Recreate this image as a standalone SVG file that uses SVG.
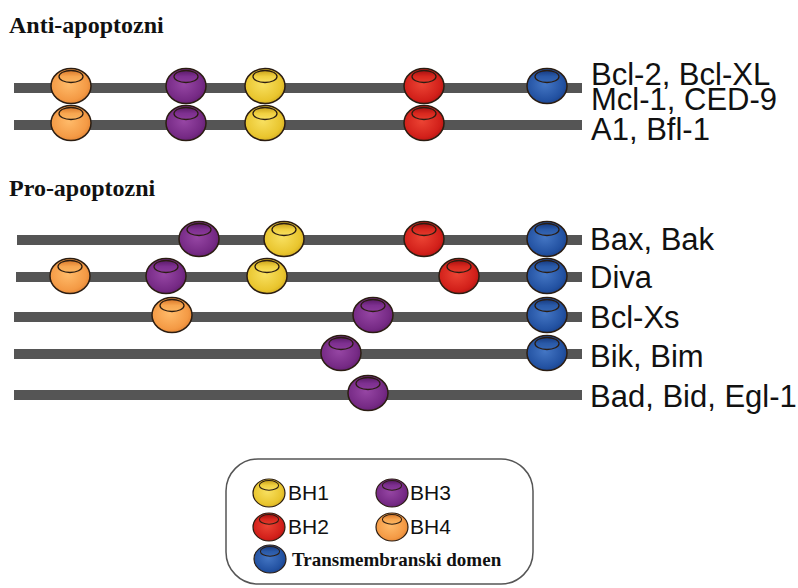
<svg xmlns="http://www.w3.org/2000/svg" xmlns:xlink="http://www.w3.org/1999/xlink" width="798" height="588" viewBox="0 0 798 588">
<style>
.bar{fill:#555555}
.lbl{font-family:"Liberation Sans",Arial,sans-serif;font-size:31px;fill:#111}
.head{font-family:"Liberation Serif","Times New Roman",serif;font-size:24px;font-weight:bold;fill:#111}
.leg{font-family:"Liberation Sans",Arial,sans-serif;font-size:21px;fill:#111}
.legb{font-family:"Liberation Serif","Times New Roman",serif;font-size:19px;font-weight:bold;fill:#111}
.out{stroke:#2b1d12;stroke-width:1.5}
.hole{stroke:#2b1d12;stroke-width:1.3}
</style>
<defs>
<radialGradient id="gO" cx="0.45" cy="0.45" r="0.65"><stop offset="0" stop-color="#ffbb6a"/><stop offset="0.7" stop-color="#f49a45"/><stop offset="1" stop-color="#d9782a"/></radialGradient>
<radialGradient id="gP" cx="0.45" cy="0.45" r="0.65"><stop offset="0" stop-color="#9646a4"/><stop offset="0.7" stop-color="#762a85"/><stop offset="1" stop-color="#5a1a68"/></radialGradient>
<radialGradient id="gY" cx="0.45" cy="0.45" r="0.65"><stop offset="0" stop-color="#f8e060"/><stop offset="0.7" stop-color="#e9c52e"/><stop offset="1" stop-color="#c9a11a"/></radialGradient>
<radialGradient id="gR" cx="0.45" cy="0.45" r="0.65"><stop offset="0" stop-color="#ec4434"/><stop offset="0.7" stop-color="#d2201a"/><stop offset="1" stop-color="#a81010"/></radialGradient>
<radialGradient id="gB" cx="0.45" cy="0.45" r="0.65"><stop offset="0" stop-color="#4476c4"/><stop offset="0.7" stop-color="#2352a2"/><stop offset="1" stop-color="#163a80"/></radialGradient>
<linearGradient id="hO" x1="0" y1="0" x2="0" y2="1"><stop offset="0" stop-color="#d9782a"/><stop offset="0.5" stop-color="#f7a650"/><stop offset="1" stop-color="#fbb560"/></linearGradient>
<linearGradient id="hP" x1="0" y1="0" x2="0" y2="1"><stop offset="0" stop-color="#5a1a68"/><stop offset="0.5" stop-color="#7e3090"/><stop offset="1" stop-color="#8a3a9a"/></linearGradient>
<linearGradient id="hY" x1="0" y1="0" x2="0" y2="1"><stop offset="0" stop-color="#c9a11a"/><stop offset="0.5" stop-color="#f0d040"/><stop offset="1" stop-color="#f8e060"/></linearGradient>
<linearGradient id="hR" x1="0" y1="0" x2="0" y2="1"><stop offset="0" stop-color="#a81010"/><stop offset="0.5" stop-color="#d8281e"/><stop offset="1" stop-color="#e43a2c"/></linearGradient>
<linearGradient id="hB" x1="0" y1="0" x2="0" y2="1"><stop offset="0" stop-color="#163a80"/><stop offset="0.5" stop-color="#2a5aa8"/><stop offset="1" stop-color="#3566b4"/></linearGradient>
<g id="bO"><ellipse class="out" rx="20" ry="17.5" fill="url(#gO)"/><ellipse class="hole" cy="-9.5" rx="12" ry="6" fill="url(#hO)"/></g>
<g id="bP"><ellipse class="out" rx="20" ry="17.5" fill="url(#gP)"/><ellipse class="hole" cy="-9.5" rx="12" ry="6" fill="url(#hP)"/></g>
<g id="bY"><ellipse class="out" rx="20" ry="17.5" fill="url(#gY)"/><ellipse class="hole" cy="-9.5" rx="12" ry="6" fill="url(#hY)"/></g>
<g id="bR"><ellipse class="out" rx="20" ry="17.5" fill="url(#gR)"/><ellipse class="hole" cy="-9.5" rx="12" ry="6" fill="url(#hR)"/></g>
<g id="bB"><ellipse class="out" rx="20" ry="17.5" fill="url(#gB)"/><ellipse class="hole" cy="-9.5" rx="12" ry="6" fill="url(#hB)"/></g>
</defs>
<rect width="798" height="588" fill="#ffffff"/>

<text class="head" x="9" y="33">Anti-apoptozni</text>
<text class="head" x="9" y="196">Pro-apoptozni</text>

<g id="connectors"></g>

<g id="anti1">
<rect class="bar" x="14" y="83" width="568" height="10"/>
<use href="#bO" x="71" y="86"/><use href="#bP" x="186" y="86"/><use href="#bY" x="265" y="86"/><use href="#bR" x="424" y="86"/><use href="#bB" x="547" y="86"/>
<text class="lbl" x="591" y="85">Bcl-2, Bcl-XL</text>
<text class="lbl" x="591" y="110">Mcl-1, CED-9</text>
</g>
<g id="anti2">
<rect class="bar" x="14" y="120" width="568" height="10"/>
<use href="#bO" x="71" y="123"/><use href="#bP" x="186" y="123"/><use href="#bY" x="265" y="123"/><use href="#bR" x="424" y="123"/>
<text class="lbl" x="591" y="140">A1, Bfl-1</text>
</g>

<g id="bax">
<rect class="bar" x="17" y="235" width="565" height="10"/>
<use href="#bP" x="199" y="239"/><use href="#bY" x="284" y="239"/><use href="#bR" x="424" y="239"/><use href="#bB" x="547" y="239"/>
<text class="lbl" x="590" y="250">Bax, Bak</text>
</g>
<g id="diva">
<rect class="bar" x="16" y="272" width="566" height="10"/>
<use href="#bO" x="70" y="276"/><use href="#bP" x="166" y="276"/><use href="#bY" x="267" y="276"/><use href="#bR" x="459" y="276"/><use href="#bB" x="547" y="276"/>
<text class="lbl" x="590" y="288">Diva</text>
</g>
<g id="bclxs">
<rect class="bar" x="14" y="312" width="568" height="10"/>
<use href="#bO" x="172" y="315"/><use href="#bP" x="373" y="315"/><use href="#bB" x="547" y="315"/>
<text class="lbl" x="590" y="328">Bcl-Xs</text>
</g>
<g id="bik">
<rect class="bar" x="14" y="349" width="568" height="10"/>
<use href="#bP" x="341" y="353"/><use href="#bB" x="547" y="353"/>
<text class="lbl" x="590" y="367">Bik, Bim</text>
</g>
<g id="bad">
<rect class="bar" x="14" y="390" width="568" height="10"/>
<use href="#bP" x="368" y="393"/>
<text class="lbl" x="590" y="407">Bad, Bid, Egl-1</text>
</g>

<g id="legend">
<rect x="226" y="459" width="307" height="125" rx="32" ry="32" fill="#ffffff" stroke="#555" stroke-width="1.5"/>
<use href="#bY" transform="translate(269,493) scale(0.8)"/>
<text class="leg" x="288" y="500">BH1</text>
<use href="#bP" transform="translate(392,493) scale(0.8)"/>
<text class="leg" x="410" y="500">BH3</text>
<use href="#bR" transform="translate(269,527) scale(0.8)"/>
<text class="leg" x="288" y="534">BH2</text>
<use href="#bO" transform="translate(392,527) scale(0.8)"/>
<text class="leg" x="410" y="534">BH4</text>
<use href="#bB" transform="translate(270,559) scale(0.8)"/>
<text class="legb" x="292" y="566">Transmembranski domen</text>
</g>
</svg>
